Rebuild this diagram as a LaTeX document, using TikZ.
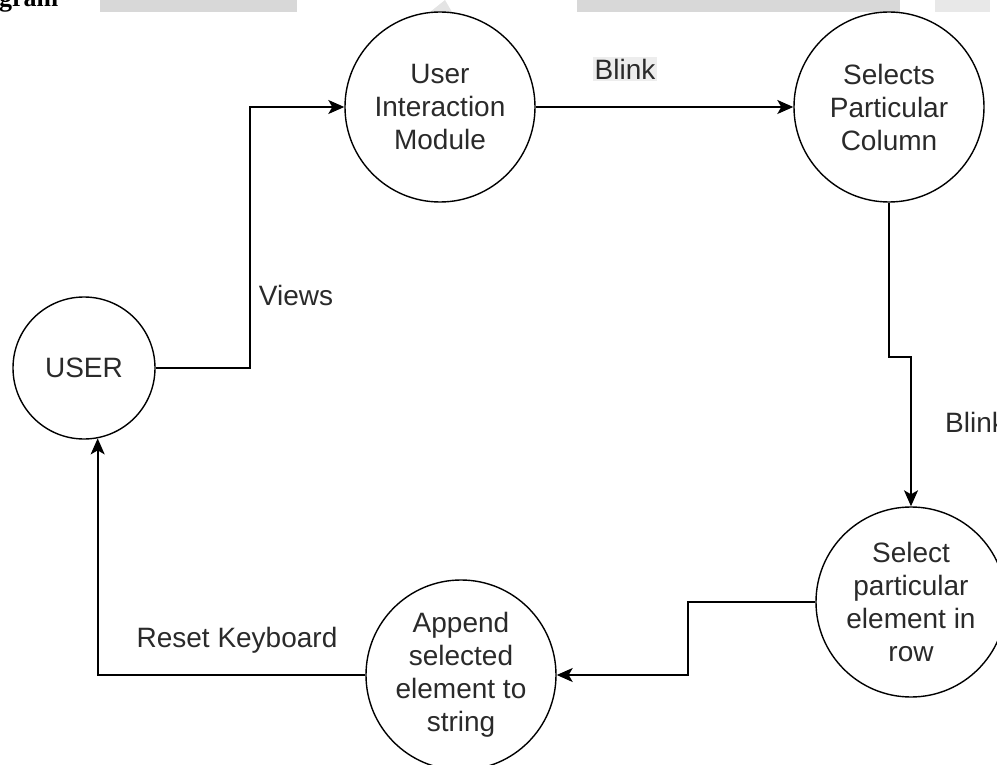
\documentclass[tikz,border=0pt]{standalone}
\usepackage{fontspec}
\setmainfont{Liberation Sans}
\newfontfamily\serifbold{Liberation Serif}
\usetikzlibrary{arrows.meta}
\definecolor{txt}{HTML}{2A2A2A}
\definecolor{strip}{HTML}{D8D8D8}
\definecolor{lblbg}{HTML}{EDEDED}
\tikzset{
  proc/.style={draw=black, line width=1.4pt, circle, fill=white, inner sep=0pt,
    minimum size=190pt, align=center, text=txt, font=\fontsize{28}{33}\selectfont},
  conn/.style={line width=1.7pt, draw=black, -{Stealth[length=16pt,width=14pt,inset=4pt]}},
  lbl/.style={text=txt, font=\fontsize{28}{33}\selectfont, inner sep=2pt}
}
\begin{document}
\begin{tikzpicture}[x=1pt,y=-1pt]
\useasboundingbox (0,0) rectangle (997,765);
\clip (0,0) rectangle (997,765);
% page strip at the top
\fill[strip] (100,0) rectangle (297,12);
\fill[strip] (577,0) rectangle (900,12);
\fill[strip!60] (935,0) rectangle (990,12);
\fill[strip!70] (430,12) -- (445,0) -- (452,12) -- cycle;
\node[anchor=base west, inner sep=0pt, font=\serifbold\bfseries\fontsize{26}{26}\selectfont] (hdr) at (-1,7) {gram};
% nodes
\node[proc, minimum size=142pt] (user) at (84,368) {USER};
\node[proc] (uim) at (440,107) {User\\Interaction\\Module};
\node[proc] (spc) at (889,107) {Selects\\Particular\\Column};
\node[proc] (spe) at (911,602) {Select\\particular\\element in\\row};
\node[proc] (app) at (461,675) {Append\\selected\\element to\\string};
% bend points
\coordinate (j1) at (250,368);
\coordinate (j2) at (911,357);
\coordinate (j3) at (688,602);
% connectors
\draw[conn] (user.east) -- (j1) |- (uim.west);
\draw[conn] (uim.east) -- (spc.west);
\draw[conn] (spc.south) |- (j2) -- (spe.north);
\draw[conn] (spe.west) -- (j3) |- (app.east);
\draw[conn] (app.west) -| (user.-79.5);
% labels
\node[lbl] (views) at (296,295) {Views};
\node[lbl, fill=lblbg] (blink1) at (625,69) {Blink};
\node[lbl, anchor=west] (blink2) at (943,422) {Blink};
\node[lbl] (reset) at (237,640) {Reset Keyboard};
\end{tikzpicture}
\end{document}
